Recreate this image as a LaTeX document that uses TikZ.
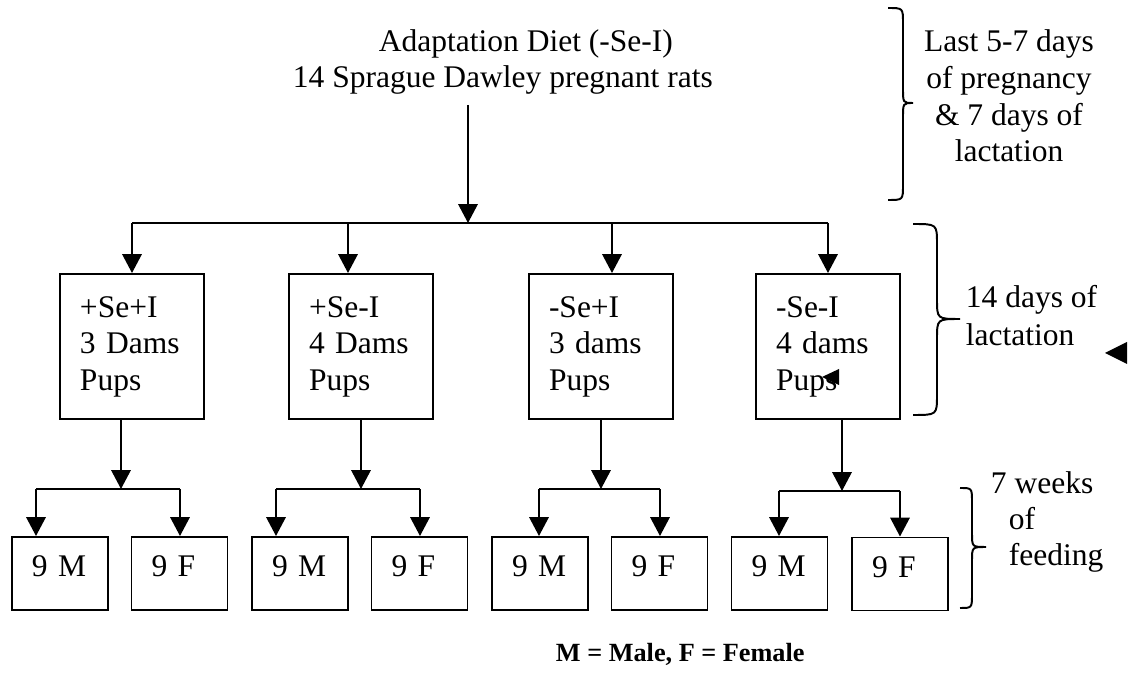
\documentclass[tikz,border=0pt]{standalone}
\usepackage{fontspec}
\setmainfont{Liberation Serif}
\usetikzlibrary{arrows.meta}
\def\pxu{0.381pt}
\newcommand\mybrace[7]{% x0, xs, xt, ytop, ymid, ybot, r
  (#1,#4) .. controls (#2,#4) .. (#2,#4+#7) -- (#2,#5-#7)
  .. controls (#2,#5) .. (#3,#5) .. controls (#2,#5) .. (#2,#5+#7)
  -- (#2,#6-#7) .. controls (#2,#6) .. (#1,#6)}
\begin{document}
\begin{tikzpicture}[x=0.381pt,y=-0.381pt,
  line width=0.75pt,
  arr/.style={-{Triangle[length=7.2pt,width=7.4pt]}},
  txt/.style={inner sep=0pt, font=\fontsize{12}{14}\selectfont},
  gbox/.style={draw, minimum width=144*\pxu, minimum height=145*\pxu,
    text width=104*\pxu, align=left, inner xsep=20*\pxu, inner ysep=0pt,
    font=\fontsize{12}{13.9}\selectfont},
  sbox/.style={draw, minimum width=96*\pxu, text width=56*\pxu, align=left,
    inner xsep=20*\pxu, inner ysep=19*\pxu, text height=21*\pxu,
    text depth=14*\pxu, font=\fontsize{12}{14}\selectfont},
  tri/.style={fill=black}
]
\useasboundingbox (0,0) rectangle (1134,675);

% title
\node[txt, anchor=base west] (t1) at (378,52) {Adaptation Diet (-Se-I)};
\node[txt, anchor=base west] (t2) at (292,88) {14 Sprague Dawley pregnant rats};

% bus
\coordinate (bus) at (468,223);
\coordinate (busL) at (132,223);
\coordinate (busR) at (828,223);
\coordinate (j2) at (348,223);
\coordinate (j3) at (612,223);
\draw[arr] (bus |- t2.south) ++(0,9) -- (bus);
\draw (busL) -- (busR);

% group boxes
\node[gbox] (b1) at (132,346.5) {+Se+I\\3 Dams\\Pups};
\node[gbox] (b2) at (361,346.5) {+Se-I\\4 Dams\\Pups};
\node[gbox] (b3) at (601,346.5) {-Se+I\\3 dams\\Pups};
\node[gbox] (b4) at (828,346.5) {-Se-I\\4 dams\\Pups};

\draw[arr] (busL) -- (b1.north);
\draw[arr] (j2) -- (j2 |- b2.north);
\draw[arr] (j3) -- (j3 |- b3.north);
\draw[arr] (busR) -- (b4.north);

% sub boxes
\node[sbox] (m1) at (60,573.5) {9 M};
\node[sbox] (f1) at (179.5,573.5) {9 F};
\node[sbox] (m2) at (300,573.5) {9 M};
\node[sbox] (f2) at (419.5,573.5) {9 F};
\node[sbox] (m3) at (540,573.5) {9 M};
\node[sbox] (f3) at (659.5,573.5) {9 F};
\node[sbox] (m4) at (779.5,573.5) {9 M};
\node[sbox] (f4) at (900,574) {9 F};

% splits
\coordinate (s1) at (121,489); \coordinate (l1) at (36,489);  \coordinate (r1) at (180,489);
\coordinate (s2) at (361,489); \coordinate (l2) at (276,489); \coordinate (r2) at (420,489);
\coordinate (s3) at (601,489); \coordinate (l3) at (539,489); \coordinate (r3) at (660,489);
\coordinate (s4) at (842,491); \coordinate (l4) at (779,491); \coordinate (r4) at (900,491);

\draw[arr] (s1 |- b1.south) -- (s1);
\draw[arr] (s2 |- b2.south) -- (s2);
\draw[arr] (s3 |- b3.south) -- (s3);
\draw[arr] (s4 |- b4.south) -- (s4);

\draw (l1) -- (r1); \draw[arr] (l1) -- (l1 |- m1.north); \draw[arr] (r1) -- (r1 |- f1.north);
\draw (l2) -- (r2); \draw[arr] (l2) -- (l2 |- m2.north); \draw[arr] (r2) -- (r2 |- f2.north);
\draw (l3) -- (r3); \draw[arr] (l3) -- (l3 |- m3.north); \draw[arr] (r3) -- (r3 |- f3.north);
\draw (l4) -- (r4); \draw[arr] (l4) -- (l4 |- m4.north); \draw[arr] (r4) -- (r4 |- f4.north);

% braces
\draw \mybrace{888}{903}{913}{8}{103}{200}{15};
\draw \mybrace{913}{937}{960}{224}{319}{415}{20};
\draw \mybrace{960}{972}{986}{488}{547}{608}{14};

% brace labels (base anchor = baseline of last line)
\node[txt, anchor=base, align=center, font=\fontsize{12}{14}\selectfont] (lbl1) at (1009,162)
  {Last 5-7 days\\of pregnancy\\\& 7 days of\\lactation};
\node[txt, anchor=base west, align=left, font=\fontsize{12}{14.5}\selectfont] (lbl2) at (965,346)
  {14 days of\\lactation};
\node[txt, anchor=base west, align=left, font=\fontsize{12}{13.9}\selectfont] (lbl3) at (990,566)
  {7 weeks\\\hspace*{6.86pt}of\\\hspace*{6.86pt}feeding};

% legend
\node[inner sep=0pt, anchor=base west, font=\bfseries\fontsize{10}{12}\selectfont] (legend) at (555,662)
  {M = Male, F = Female};

% stray triangles
\fill[tri] (822,377) -- (839,369) -- (839,385) -- cycle;
\fill[tri] (1105,353) -- (1127,342) -- (1127,364) -- cycle;
\end{tikzpicture}
\end{document}
